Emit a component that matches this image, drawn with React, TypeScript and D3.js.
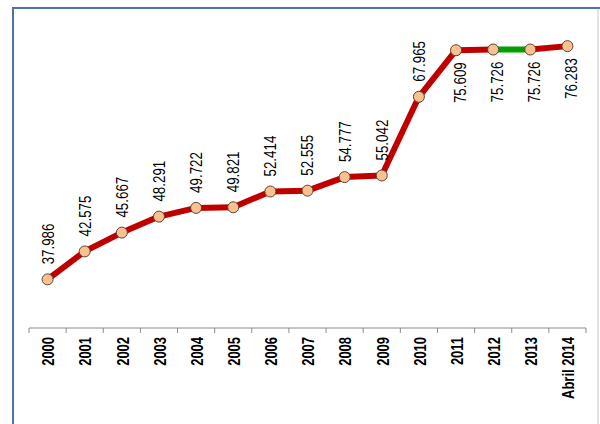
import React from "react";
import * as d3 from "d3";

const categories = ["2000","2001","2002","2003","2004","2005","2006","2007","2008","2009","2010","2011","2012","2013","Abril 2014"];
const values = [37.986,42.575,45.667,48.291,49.722,49.821,52.414,52.555,54.777,55.042,67.965,75.609,75.726,75.726,76.283];
// index of labels placed below the point (from 2011 onward)
const belowFrom = 11;
// segment drawn in green (2012 -> 2013)
const greenSegmentStart = 12;

const W = 600, H = 424;
const plot = { left: 29, right: 586, top: 23.5, bottom: 328 };
const numFont = "'Liberation Sans', Arial, sans-serif";
const narrow = 0.81;

export default function App() {
  const x = d3.scaleBand<string>().domain(categories).range([plot.left, plot.right]).padding(0);
  const y = d3.scaleLinear().domain([30, 80]).range([plot.bottom, plot.top]);
  const cx = (i: number) => (x(categories[i]) as number) + x.bandwidth() / 2;

  const segs: { d: string; color: string }[] = [];
  for (let i = 0; i < values.length - 1; i++) {
    const pts: [number, number][] = [[cx(i), y(values[i])], [cx(i + 1), y(values[i + 1])]];
    segs.push({
      d: d3.line()(pts) as string,
      color: i === greenSegmentStart ? "#00A000" : "#C00000",
    });
  }
  const ticks = categories.map((c) => x(c) as number).concat([plot.right]);

  return (
    <svg width={W} height={H} style={{ position: "absolute", left: 0, top: 0, background: "#fff" }}>
      {/* frame */}
      <line x1={13} y1={8} x2={13} y2={H} stroke="#4F73A8" strokeWidth={2} />
      <line x1={12} y1={8} x2={W} y2={8} stroke="#4F73A8" strokeWidth={2} />
      <line x1={598} y1={9} x2={598} y2={H} stroke="#D9D9D9" strokeWidth={1.5} />

      {/* axis */}
      <line x1={plot.left} y1={plot.bottom} x2={plot.right} y2={plot.bottom} stroke="#8C8C8C" strokeWidth={1} />
      {ticks.map((t, i) => (
        <line key={i} x1={t} y1={plot.bottom} x2={t} y2={plot.bottom + 5} stroke="#8C8C8C" strokeWidth={1} />
      ))}
      {categories.map((c, i) => (
        <text key={c} transform={`translate(${cx(i) + 1},${337}) rotate(-90) scale(${narrow},1)`} textAnchor="end" dy="0.36em"
          fontFamily={numFont} fontWeight="bold" fontSize={16} fill="#000">{c}</text>
      ))}

      {/* line */}
      {segs.map((s, i) => (
        <path key={i} d={s.d} stroke={s.color} strokeWidth={6} fill="none" strokeLinecap="round" strokeLinejoin="round" />
      ))}

      {/* markers */}
      {values.map((v, i) => (
        <circle key={i} cx={cx(i)} cy={y(v)} r={5.5} fill="#FAC090" stroke="#5A4636" strokeWidth={1} />
      ))}

      {/* labels */}
      {values.map((v, i) => {
        const below = i >= belowFrom;
        const ly = below ? y(v) + 12 : y(v) - 15;
        const lx = cx(i) + (below ? 4 : 0);
        return (
          <text key={i} transform={`translate(${lx},${ly}) rotate(-90) scale(${narrow},1)`} textAnchor={below ? "end" : "start"} dy="0.36em"
            fontFamily={numFont} fontSize={16.5} fill="#000">{v.toFixed(3)}</text>
        );
      })}
    </svg>
  );
}
